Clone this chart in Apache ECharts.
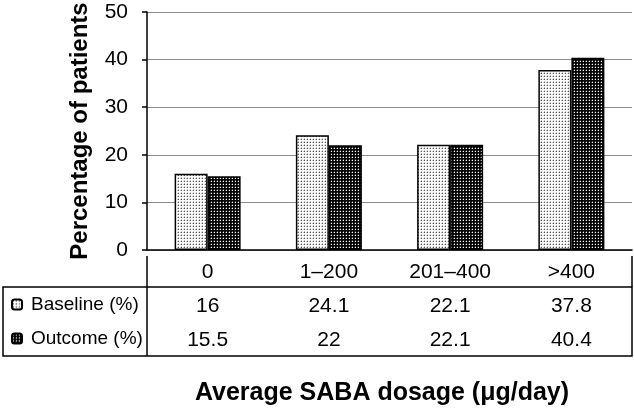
<!DOCTYPE html>
<html>
<head>
<meta charset="utf-8">
<script src="https://cdn.jsdelivr.net/npm/echarts@6/dist/echarts.min.js"></script>
<style>
  html, body { margin: 0; padding: 0; background: #fff; }
  #chart { width: 634px; height: 411px; }
</style>
</head>
<body>
<div id="chart"></div>
<script>
const categories = ['0', '1–200', '201–400', '>400'];
const baseline = [16, 24.1, 22.1, 37.8];
const outcome = [15.5, 22, 22.1, 40.4];
const seriesNames = ['Baseline (%)', 'Outcome (%)'];

const FONT = "'Liberation Sans', Arial, sans-serif";

// small dotted tiles used as bar fills
function makeTile(bg, dot, mid) {
  const c = document.createElement('canvas');
  c.width = 3;
  c.height = 3;
  const ctx = c.getContext('2d');
  ctx.fillStyle = bg;
  ctx.fillRect(0, 0, 3, 3);
  ctx.fillStyle = mid;
  ctx.fillRect(0, 1, 1, 1);
  ctx.fillRect(1, 0, 1, 1);
  ctx.fillStyle = dot;
  ctx.fillRect(1, 1, 1, 1);
  return { image: c, repeat: 'repeat' };
}
const lightFill = makeTile('#ffffff', '#555555', '#c8c8c8');
const darkFill = makeTile('#000000', '#ffffff', '#444444');

const chart = echarts.init(document.getElementById('chart'));

const rowAxis = (values, offset) => ({
  type: 'category',
  data: values.map(String),
  position: 'bottom',
  offset: offset,
  axisLine: { show: false },
  axisTick: { show: false },
  axisLabel: { margin: 12, fontSize: 21, color: '#000', fontFamily: FONT },
});

const option = {
  animation: false,
  grid: { left: 147, right: 2, top: 12, bottom: 155 },
  legend: {
    orient: 'vertical',
    left: 6,
    top: 290,
    itemWidth: 10,
    itemHeight: 10,
    itemGap: 15,
    selectedMode: false,
    textStyle: { fontSize: 19, color: '#000', fontFamily: FONT, padding: [0, 0, 0, 4] },
    data: seriesNames,
  },
  xAxis: [
    {
      type: 'category',
      data: categories,
      position: 'bottom',
      axisLine: { show: true, lineStyle: { color: '#000', width: 1.5 } },
      axisTick: { show: false },
      axisLabel: { margin: 12, fontSize: 21, color: '#000', fontFamily: FONT },
      name: 'Average SABA dosage (μg/day)',
      nameLocation: 'middle',
      nameGap: 131,
      nameTextStyle: { fontSize: 25, fontWeight: 'bold', color: '#000', fontFamily: FONT, padding: [0, 15, 0, 0] },
    },
    rowAxis(baseline, 34),
    rowAxis(outcome, 68),
  ],
  yAxis: {
    type: 'value',
    min: 0,
    max: 50,
    interval: 10,
    axisLine: { show: true, lineStyle: { color: '#000', width: 1.5 } },
    axisTick: { show: true, length: 5, lineStyle: { color: '#000', width: 1.5 } },
    axisLabel: { margin: 19, fontSize: 21, color: '#000', fontFamily: FONT },
    splitLine: { show: true, lineStyle: { color: '#8c8c8c', width: 1 } },
    name: 'Percentage of patients',
    nameLocation: 'middle',
    nameGap: 55,
    nameTextStyle: { fontSize: 24, fontWeight: 'bold', color: '#000', fontFamily: FONT },
  },
  series: [
    {
      name: seriesNames[0],
      type: 'bar',
      data: baseline,
      barWidth: 33,
      barGap: '0%',
      itemStyle: { color: lightFill, borderColor: '#000', borderWidth: 1.5 },
    },
    {
      name: seriesNames[1],
      type: 'bar',
      data: outcome,
      barWidth: 33,
      barGap: '0%',
      itemStyle: { color: darkFill, borderColor: '#000', borderWidth: 1.5 },
    },
  ],
  graphic: [
    { type: 'rect', shape: { x: 3, y: 287, width: 629, height: 69 },
      style: { fill: 'none', stroke: '#000', lineWidth: 1.5 } },
    { type: 'line', shape: { x1: 147, y1: 256, x2: 147, y2: 356 },
      style: { stroke: '#000', lineWidth: 1.5 } },
    { type: 'line', shape: { x1: 632, y1: 256, x2: 632, y2: 287 },
      style: { stroke: '#000', lineWidth: 1.5 } },
  ],
};

chart.setOption(option);
</script>
</body>
</html>
